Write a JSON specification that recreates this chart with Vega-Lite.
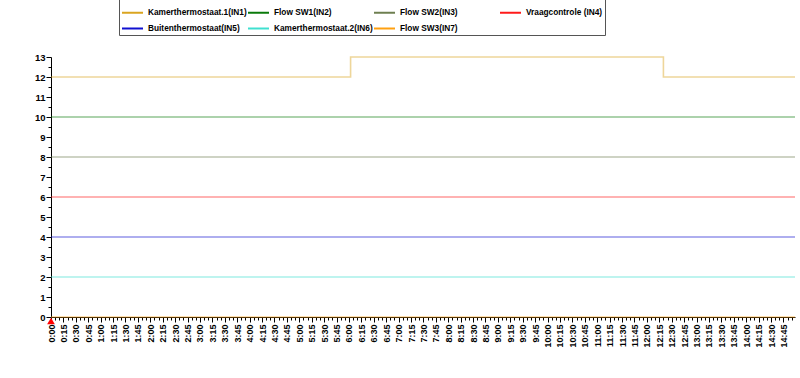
{
  "$schema": "https://vega.github.io/schema/vega-lite/v6.json",
  "autosize": "none",
  "width": 744,
  "height": 260,
  "padding": {"left": 51, "top": 57, "right": 5, "bottom": 61},
  "background": "white",
  "config": {
    "view": {"stroke": null},
    "font": "Liberation Sans"
  },
  "datasets": {
    "lines": [
      {"series": "Kamerthermostaat.1(IN1)", "t": 0, "v": 12},
      {"series": "Kamerthermostaat.1(IN1)", "t": 362, "v": 13},
      {"series": "Kamerthermostaat.1(IN1)", "t": 740, "v": 12},
      {"series": "Kamerthermostaat.1(IN1)", "t": 899, "v": 12},
      {"series": "Flow SW1(IN2)", "t": 0, "v": 10},
      {"series": "Flow SW1(IN2)", "t": 899, "v": 10},
      {"series": "Flow SW2(IN3)", "t": 0, "v": 8},
      {"series": "Flow SW2(IN3)", "t": 899, "v": 8},
      {"series": "Vraagcontrole (IN4)", "t": 0, "v": 6},
      {"series": "Vraagcontrole (IN4)", "t": 899, "v": 6},
      {"series": "Buitenthermostaat(IN5)", "t": 0, "v": 4},
      {"series": "Buitenthermostaat(IN5)", "t": 899, "v": 4},
      {"series": "Kamerthermostaat.2(IN6)", "t": 0, "v": 2},
      {"series": "Kamerthermostaat.2(IN6)", "t": 899, "v": 2},
      {"series": "Flow SW3(IN7)", "t": 0, "v": 0},
      {"series": "Flow SW3(IN7)", "t": 899, "v": 0}
    ],
    "marker": [
      {"t": 0, "v": 0}
    ]
  },
  "encoding": {
    "x": {
      "field": "t", "type": "quantitative",
      "scale": {"domain": [0, 899], "nice": false, "zero": false},
      "axis": {
        "title": null,
        "grid": false,
        "tickCount": 180,
        "labelExpr": "datum.value % 15 === 0 ? floor(datum.value / 60) + ':' + (datum.value % 60 < 10 ? '0' : '') + (datum.value % 60) : ''",
        "labelAngle": -90,
        "labelFontSize": 9,
        "labelFontWeight": "bold",
        "labelColor": "black",
        "labelOverlap": false,
        "labelFlush": false,
        "labelPadding": 2,
        "domainColor": "black",
        "tickColor": "black",
        "tickSize": {"condition": {"test": "datum.value % 15 === 0", "value": 5}, "value": 3}
      }
    },
    "y": {
      "field": "v", "type": "quantitative",
      "scale": {"domain": [0, 13], "nice": false},
      "axis": {
        "title": null,
        "grid": false,
        "values": [0, 0.5, 1, 1.5, 2, 2.5, 3, 3.5, 4, 4.5, 5, 5.5, 6, 6.5, 7, 7.5, 8, 8.5, 9, 9.5, 10, 10.5, 11, 11.5, 12, 12.5, 13],
        "labelExpr": "datum.value % 1 === 0 ? format(datum.value, 'd') : ''",
        "labelFontSize": 9.5,
        "labelFontWeight": "bold",
        "labelColor": "black",
        "labelOverlap": false,
        "labelFlush": false,
        "labelPadding": 1,
        "domainColor": "black",
        "tickColor": "black",
        "tickSize": {"condition": {"test": "datum.value % 1 === 0", "value": 5}, "value": 3}
      }
    }
  },
  "layer": [
    {
      "data": {"name": "lines"},
      "mark": {"type": "line", "interpolate": "step-after", "strokeWidth": 1.6, "opacity": 0.45, "clip": false},
      "encoding": {
        "color": {
          "field": "series", "type": "nominal",
          "scale": {
            "domain": ["Kamerthermostaat.1(IN1)", "Flow SW1(IN2)", "Flow SW2(IN3)", "Vraagcontrole (IN4)", "Buitenthermostaat(IN5)", "Kamerthermostaat.2(IN6)", "Flow SW3(IN7)"],
            "range": ["#DAA520", "#0A7A0A", "#6E7F50", "#FF1A1A", "#1010D0", "#40E0D0", "#FFA010"]
          },
          "legend": {
            "title": null,
            "orient": "none",
            "legendX": 68,
            "legendY": -58,
            "direction": "horizontal",
            "columns": 4,
            "gridAlign": "all",
            "columnPadding": -4,
            "rowPadding": -16,
            "padding": 2,
            "strokeColor": "#555555",
            "cornerRadius": 0,
            "symbolType": "stroke",
            "symbolSize": 441,
            "symbolStrokeWidth": 2,
            "symbolOpacity": 1,
            "labelOffset": 4,
            "labelFont": "Liberation Sans",
            "labelFontSize": 8.3,
            "labelFontWeight": "bold",
            "labelColor": "black",
            "labelLimit": 200
          }
        }
      }
    },
    {
      "data": {"name": "marker"},
      "mark": {"type": "point", "shape": "triangle-up", "filled": true, "color": "#FF0000", "opacity": 1, "size": 60, "yOffset": 4, "clip": false}
    }
  ]
}
